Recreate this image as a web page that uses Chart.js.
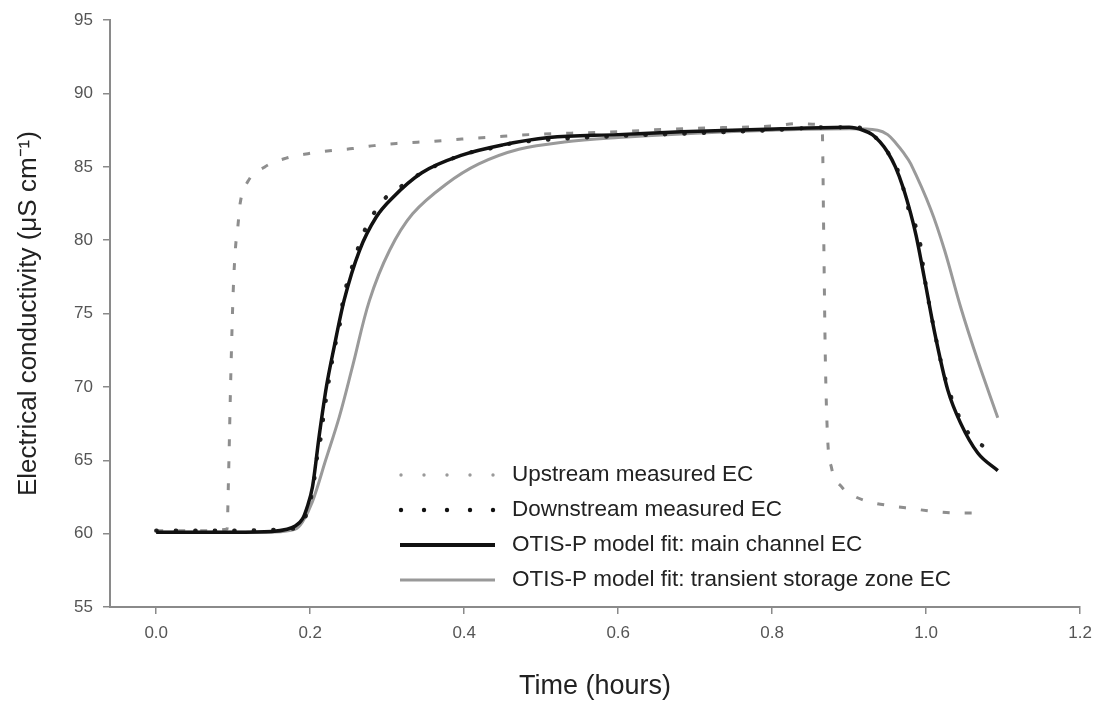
<!DOCTYPE html>
<html>
<head>
<meta charset="utf-8">
<script src="https://cdn.jsdelivr.net/npm/chart.js@4"></script>
<style>
html,body{margin:0;padding:0;background:#fff;}
#c{display:block;}
</style>
</head>
<body>
<canvas id="c" width="1101" height="706"></canvas>
<script>
// ---- data ----
const xTicks = [0.0, 0.2, 0.4, 0.6, 0.8, 1.0, 1.2];
const yTicks = [55, 60, 65, 70, 75, 80, 85, 90, 95];

const seriesNames = [
  'Upstream measured EC',
  'Downstream measured EC',
  'OTIS-P model fit: main channel EC',
  'OTIS-P model fit: transient storage zone EC'
];

const upTime = [0, 0.05, 0.092, 0.094, 0.097, 0.100, 0.103, 0.106, 0.109, 0.119, 0.141, 0.169, 0.197, 0.225, 0.255, 0.283, 0.312, 0.36, 0.397, 0.428, 0.484, 0.539, 0.6, 0.656, 0.716, 0.803, 0.833, 0.859, 0.865, 0.867, 0.869, 0.872, 0.877, 0.89, 0.905, 0.924, 0.953, 0.982, 1.012, 1.043, 1.075];
const upEC   = [60.2, 60.2, 60.3, 64, 71, 76.5, 79.5, 80.9, 82.5, 84.0, 85.0, 85.6, 85.9, 86.1, 86.25, 86.45, 86.6, 86.75, 86.9, 87.0, 87.2, 87.3, 87.4, 87.55, 87.65, 87.8, 87.95, 87.9, 87.5, 80, 72, 66.5, 64.5, 63.2, 62.6, 62.2, 61.9, 61.7, 61.5, 61.4, 61.4];

const downTime = [0, 0.05, 0.1, 0.15, 0.183, 0.204, 0.208, 0.213, 0.217, 0.231, 0.238, 0.242, 0.248, 0.257, 0.267, 0.280, 0.298, 0.322, 0.345, 0.402, 0.429, 0.461, 0.52, 0.6, 0.7, 0.8, 0.87, 0.91, 0.93, 0.95, 0.965, 0.98, 0.991, 0.995, 0.999, 1.01, 1.023, 1.04, 1.057, 1.082];
const downEC   = [60.2, 60.2, 60.2, 60.25, 60.4, 63.2, 64.9, 66.3, 67.9, 72.5, 74.1, 75.7, 77.1, 78.6, 80.2, 81.6, 82.9, 83.8, 84.6, 85.9, 86.2, 86.6, 86.9, 87.1, 87.3, 87.5, 87.7, 87.7, 87.2, 86.0, 84.5, 81.6, 80.2, 78.6, 77.1, 74.0, 70.9, 68.3, 66.7, 65.7];

const mainTime = [0, 0.1, 0.15, 0.17, 0.18, 0.19, 0.196, 0.203, 0.212, 0.221, 0.231, 0.244, 0.264, 0.286, 0.307, 0.345, 0.397, 0.45, 0.51, 0.6, 0.682, 0.812, 0.9, 0.918, 0.93, 0.94, 0.95, 0.96, 0.97, 0.98, 0.987, 0.997, 1.011, 1.028, 1.045, 1.067, 1.093];
const mainEC   = [60.1, 60.1, 60.15, 60.3, 60.5, 61.0, 61.8, 63.2, 66.8, 70.0, 72.7, 75.9, 79.3, 81.6, 82.9, 84.6, 85.8, 86.5, 87.0, 87.2, 87.4, 87.6, 87.7, 87.5, 87.2, 86.7, 86.0, 85.0, 83.6, 81.8, 80.3, 77.6, 73.7, 69.8, 67.5, 65.5, 64.3];

const storTime = [0, 0.1, 0.15, 0.18, 0.19, 0.203, 0.22, 0.238, 0.255, 0.277, 0.303, 0.333, 0.376, 0.419, 0.471, 0.53, 0.6, 0.7, 0.8, 0.9, 0.937, 0.95, 0.961, 0.97, 0.98, 1.006, 1.024, 1.045, 1.067, 1.093];
const storEC   = [60.1, 60.1, 60.1, 60.3, 60.8, 62.2, 65.0, 68.0, 71.4, 75.9, 79.3, 81.8, 83.8, 85.2, 86.2, 86.7, 87.0, 87.3, 87.5, 87.6, 87.5, 87.2, 86.6, 86.0, 85.2, 82.1, 79.3, 75.4, 71.8, 67.9];

const pts = (xs, ys) => xs.map((x, i) => ({x: x, y: ys[i]}));

const FONT = '"Liberation Sans", Arial, Helvetica, sans-serif';

const legendPlugin = {
  id: 'customLegend',
  afterDraw(chart) {
    const ctx = chart.ctx;
    const x0 = 400, x1 = 495, tx = 512;
    const rows = [475, 510, 545, 580];
    ctx.save();
    ctx.fillStyle = '#9a9a9a';
    for (let i = 0; i < 5; i++) {
      ctx.beginPath(); ctx.arc(x0 + 1 + i * 23, rows[0], 1.7, 0, Math.PI * 2); ctx.fill();
    }
    ctx.fillStyle = '#111';
    for (let i = 0; i < 5; i++) {
      ctx.beginPath(); ctx.arc(x0 + 1 + i * 23, rows[1], 2.2, 0, Math.PI * 2); ctx.fill();
    }
    ctx.lineCap = 'butt';
    ctx.strokeStyle = '#111'; ctx.lineWidth = 4;
    ctx.beginPath(); ctx.moveTo(x0, rows[2]); ctx.lineTo(x1, rows[2]); ctx.stroke();
    ctx.strokeStyle = '#999'; ctx.lineWidth = 3;
    ctx.beginPath(); ctx.moveTo(x0, rows[3]); ctx.lineTo(x1, rows[3]); ctx.stroke();
    ctx.fillStyle = '#222';
    ctx.font = '22.5px ' + FONT;
    ctx.textBaseline = 'middle';
    ctx.textAlign = 'left';
    seriesNames.forEach((n, i) => ctx.fillText(n, tx, rows[i]));
    ctx.restore();
  }
};

new Chart(document.getElementById('c'), {
  type: 'line',
  data: {
    datasets: [
      {
        label: seriesNames[2], data: pts(mainTime, mainEC), order: 0,
        borderColor: '#111', borderWidth: 3.5, pointRadius: 0,
        cubicInterpolationMode: 'monotone', fill: false
      },
      {
        label: seriesNames[1], data: pts(downTime, downEC), order: 1,
        borderColor: '#222', borderWidth: 4.2, pointRadius: 0,
        borderDash: [0.5, 19], borderCapStyle: 'round',
        cubicInterpolationMode: 'monotone', fill: false
      },
      {
        label: seriesNames[0], data: pts(upTime, upEC), order: 2,
        borderColor: '#8e8e8e', borderWidth: 3, pointRadius: 0,
        borderDash: [7, 15], borderCapStyle: 'butt',
        cubicInterpolationMode: 'monotone', fill: false
      },
      {
        label: seriesNames[3], data: pts(storTime, storEC), order: 3,
        borderColor: '#9a9a9a', borderWidth: 3, pointRadius: 0,
        tension: 0.35, fill: false
      }
    ]
  },
  options: {
    responsive: false,
    animation: false,
    events: [],
    layout: { padding: { left: 0, right: 18, top: 20, bottom: 0 } },
    plugins: { legend: { display: false }, tooltip: { enabled: false } },
    scales: {
      x: {
        type: 'linear', min: -0.06, max: 1.2,
        afterBuildTicks: s => { s.ticks = xTicks.map(v => ({value: v})); },
        afterFit: s => { s.height = 99; },
        grid: { display: true, drawOnChartArea: false, drawTicks: true, tickLength: 7, color: '#8a8a8a', lineWidth: 1.5 },
        border: { display: true, color: '#8a8a8a', width: 2 },
        ticks: { color: '#555', font: { family: FONT, size: 17 }, padding: 9, maxRotation: 0,
                 callback: v => Number(v).toFixed(1) },
        title: { display: true, text: 'Time (hours)', color: '#222',
                 font: { family: FONT, size: 27 }, padding: { top: 0, bottom: 3 } }
      },
      y: {
        type: 'linear', min: 55, max: 95,
        afterBuildTicks: s => { s.ticks = yTicks.map(v => ({value: v})); },
        afterFit: s => { s.width = 110; },
        grid: { display: true, drawOnChartArea: false, drawTicks: true, tickLength: 7, color: '#8a8a8a', lineWidth: 1.5 },
        border: { display: true, color: '#8a8a8a', width: 2 },
        ticks: { color: '#555', font: { family: FONT, size: 17 }, padding: 10,
                 callback: v => String(v) },
        title: { display: true, text: 'Electrical conductivity (μS cm⁻¹)', color: '#222',
                 font: { family: FONT, size: 26 }, padding: { top: 13, bottom: 0 } }
      }
    }
  },
  plugins: [legendPlugin]
});
</script>
</body>
</html>
